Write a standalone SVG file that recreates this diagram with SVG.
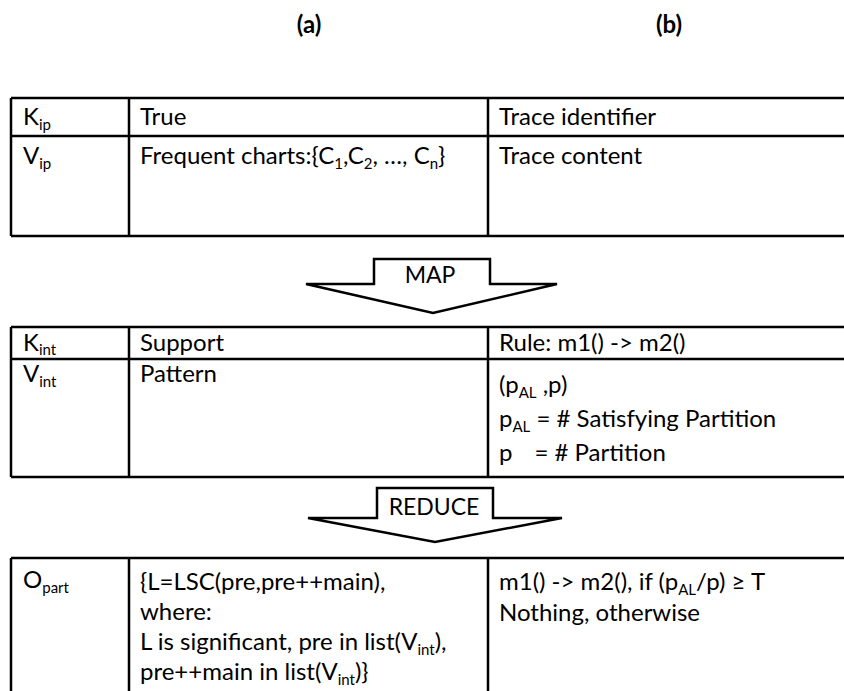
<svg xmlns="http://www.w3.org/2000/svg" width="844" height="691" viewBox="0 0 844 691">
<style>
text{font-family:Lato,"Open Sans","Liberation Sans",sans-serif;font-size:24px;fill:#000}
.h{font-weight:bold;text-anchor:middle}
.c{text-anchor:middle;font-size:23px}
.s{font-size:15px}
.ln{stroke:#000;stroke-width:2.5;fill:none}
.ar{stroke:#000;stroke-width:2.5;fill:#fff;stroke-linejoin:miter}
</style>
<rect width="844" height="691" fill="#fff"/>
<text class="h" x="309" y="33">(a)</text>
<text class="h" x="669" y="33">(b)</text>

<g id="table-input">
<path class="ln" d="M11 98H844M11 136H844M11 236H844M11 98V236M129 98V236M488 98V236"/>
<text x="23" y="125">K<tspan class="s" dy="5">ip</tspan></text>
<text x="140" y="125">True</text>
<text x="499" y="125">Trace identifier</text>
<text x="23" y="164">V<tspan class="s" dy="5">ip</tspan></text>
<text x="140" y="164">Frequent charts:{C<tspan class="s" dy="5">1</tspan><tspan dy="-5">,C</tspan><tspan class="s" dy="5">2</tspan><tspan dy="-5">, …, C</tspan><tspan class="s" dy="5">n</tspan><tspan dy="-5">}</tspan></text>
<text x="499" y="164">Trace content</text>
</g>

<g id="map-arrow">
<polygon class="ar" points="374,259 490,259 490,284 557,284 433,313 306,284 374,284"/>
<text class="c" x="430" y="283">MAP</text>
</g>

<g id="table-intermediate">
<path class="ln" d="M11 327H844M11 359H844M11 477H844M11 327V477M129 327V477M488 327V477"/>
<text x="23" y="351">K<tspan class="s" dy="4">int</tspan></text>
<text x="140" y="351">Support</text>
<text x="499" y="351">Rule: m1() -&gt; m2()</text>
<text x="23" y="382">V<tspan class="s" dy="5">int</tspan></text>
<text x="140" y="382">Pattern</text>
<text x="499" y="393">(p<tspan class="s" dy="5">AL</tspan><tspan dy="-5"> ,p)</tspan></text>
<text x="499" y="427">p<tspan class="s" dy="5">AL</tspan><tspan dy="-5"> = # Satisfying Partition</tspan></text>
<text x="499" y="461">p<tspan dx="22">= # Partition</tspan></text>
</g>

<g id="reduce-arrow">
<polygon class="ar" points="377,488 493,488 493,518 562,518 435,542 308,518 377,518"/>
<text class="c" x="434" y="515">REDUCE</text>
</g>

<g id="table-output">
<path class="ln" d="M11 558H844M11 558V691M129 558V691M488 558V691"/>
<text x="23" y="588">O<tspan class="s" dy="5">part</tspan></text>
<text x="140" y="590">{L=LSC(pre,pre++main),</text>
<text x="140" y="620">where:</text>
<text x="140" y="650">L is significant, pre in list(V<tspan class="s" dy="5">int</tspan><tspan dy="-5">),</tspan></text>
<text x="140" y="680">pre++main in list(V<tspan class="s" dy="5">int</tspan><tspan dy="-5">)}</tspan></text>
<text x="499" y="590">m1() -&gt; m2(), if (p<tspan class="s" dy="5">AL</tspan><tspan dy="-5">/p) ≥ T</tspan></text>
<text x="499" y="621">Nothing, otherwise</text>
</g>

<g id="connectors"></g>
</svg>
